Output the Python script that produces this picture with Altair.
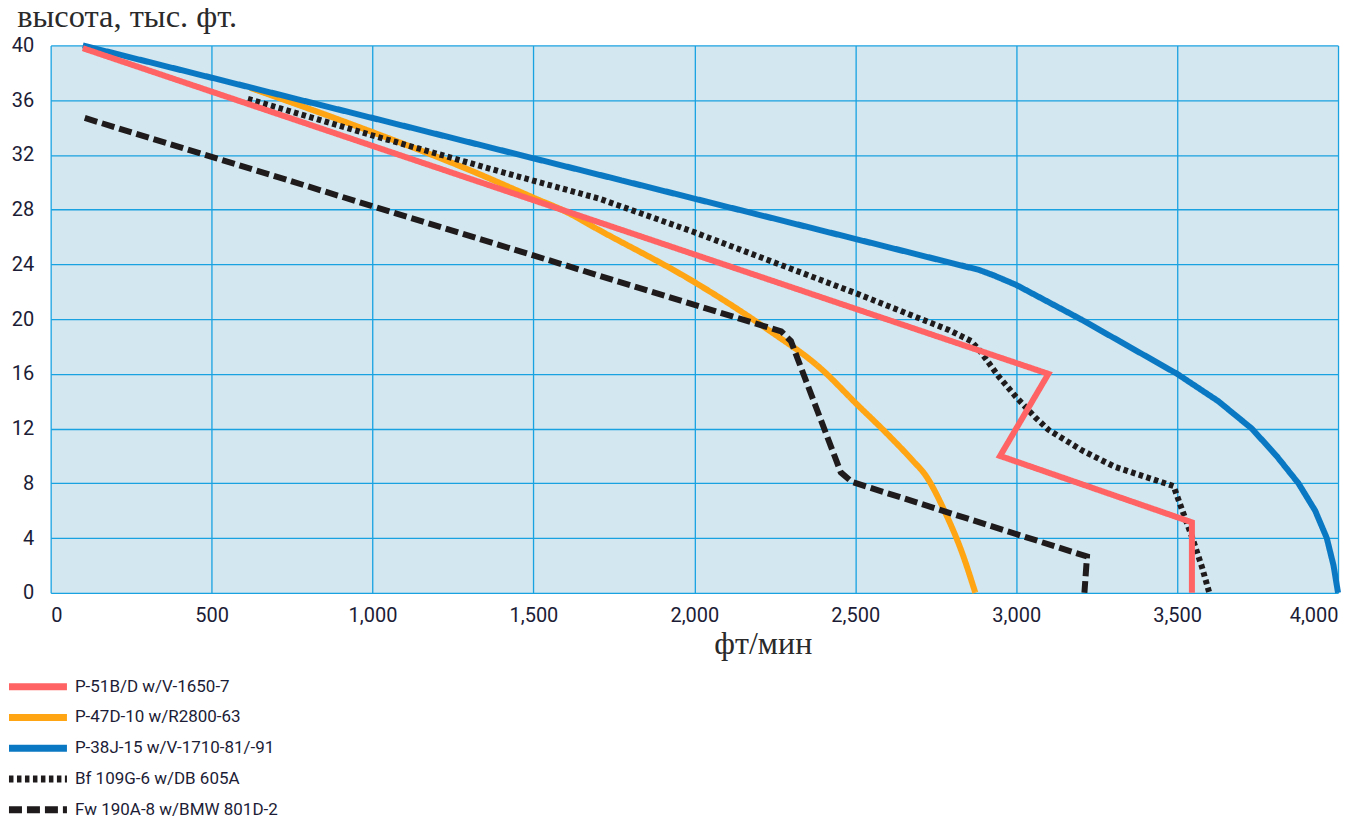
import altair as alt
import pandas as pd

names = [
    "P-51B/D w/V-1650-7",
    "P-47D-10 w/R2800-63",
    "P-38J-15 w/V-1710-81/-91",
    "Bf 109G-6 w/DB 605A",
    "Fw 190A-8 w/BMW 801D-2",
]
colors = ["#ff6363", "#ffa412", "#0a78c2", "#1f1b1c", "#1f1b1c"]
dashes = [[1, 0], [1, 0], [1, 0], [4.5, 3.5], [13, 5]]

# climb rate (ft/min) and altitude (thousand ft)
p51_x = [100, 3100, 2950, 3546, 3546]
p51_y = [39.8, 16.0, 10.0, 5.15, 0]

p47_x = [620, 800, 996, 1291, 1498, 1601, 1705, 1997, 2222, 2397, 2501, 2604, 2677, 2718, 2780, 2832, 2873]
p47_y = [36.9, 35.4, 33.7, 31.0, 28.9, 27.85, 26.5, 22.75, 19.34, 16.3, 13.87, 11.5, 9.7, 8.6, 5.84, 2.92, 0]

p38_x = [100, 2884, 2930, 3000, 3204, 3500, 3628, 3732, 3809, 3877, 3929, 3965, 3986, 4000]
p38_y = [40.0, 23.6, 23.2, 22.5, 19.95, 16.0, 14.0, 12.0, 10.0, 8.0, 6.0, 4.0, 2.0, 0]

bf_x = [613, 996, 1394, 1705, 1994, 2501, 2791, 2860, 2890, 2946, 3000, 3060, 3101, 3205, 3307, 3411, 3489, 3515, 3546, 3577, 3600]
bf_y = [36.1, 33.45, 30.8, 28.8, 26.4, 21.9, 19.2, 18.4, 17.6, 15.8, 14.3, 12.8, 11.9, 10.4, 9.2, 8.4, 7.8, 6.1, 4.1, 1.9, 0]

fw_x = [106, 2270, 2300, 2455, 2490, 3220, 3212]
fw_y = [34.7, 19.1, 18.4, 8.8, 8.1, 2.65, 0]

x_ticks = list(range(0, 4001, 500))
y_ticks = list(range(0, 41, 4))

series_x = [p51_x, p47_x, p38_x, bf_x, fw_x]
series_y = [p51_y, p47_y, p38_y, bf_y, fw_y]
interps = ["linear", "monotone", "linear", "linear", "linear"]

rows = []
for name, xs, ys in zip(names, series_x, series_y):
    for i, (xv, yv) in enumerate(zip(xs, ys)):
        rows.append({"series": name, "rate": xv, "alt": yv, "idx": i})
df = pd.DataFrame(rows)

label_font = "Roboto"
title_font = "Liberation Serif"
label_color = "#1c1c36"

x_axis = alt.Axis(
    values=x_ticks, format=",d", title="фт/мин",
    labelFont=label_font, labelFontSize=20, labelColor=label_color, labelPadding=13,
    ticks=False, domain=False, grid=True, gridColor="#18a2e2", gridWidth=1.3,
    titleFont=title_font, titleFontSize=32, titleFontWeight="normal", titleColor="#2a2a2a",
    titleX=664, titleY=61, titleAlign="left", titleBaseline="alphabetic",
)
y_axis = alt.Axis(
    values=y_ticks, title="высота, тыс. фт.",
    labelFont=label_font, labelFontSize=20, labelColor=label_color, labelPadding=17,
    ticks=False, domain=False, grid=True, gridColor="#18a2e2", gridWidth=1.3,
    titleFont=title_font, titleFontSize=32.5, titleFontWeight="normal", titleColor="#2a2a2a",
    titleAngle=0, titleX=-34, titleY=-19, titleAlign="left", titleBaseline="alphabetic",
)

legend = alt.Legend(
    title=None, orient="none", legendX=-28.7, legendY=626,
    symbolType="M-2.35,0H2.35", symbolSize=610, symbolStrokeWidth=7,
    labelFont=label_font, labelFontSize=17, labelColor=label_color, labelLimit=400,
    labelOffset=21, rowPadding=0.8,
)


def layer(name, interp):
    return (
        alt.Chart(df)
        .transform_filter(alt.datum.series == name)
        .mark_line(strokeWidth=6, interpolate=interp)
        .encode(
            x=alt.X("rate:Q", scale=alt.Scale(domain=[0, 4000], nice=False), axis=x_axis),
            y=alt.Y("alt:Q", scale=alt.Scale(domain=[0, 40], nice=False), axis=y_axis),
            color=alt.Color("series:N", scale=alt.Scale(domain=names, range=colors), legend=legend),
            strokeDash=alt.StrokeDash("series:N", scale=alt.Scale(domain=names, range=dashes), legend=legend),
            order=alt.Order("idx:Q"),
        )
    )


draw_order = [1, 2, 3, 4, 0]
chart = alt.layer(*[layer(names[i], interps[i]) for i in draw_order]).properties(
    width=1289,
    height=548,
    autosize=alt.AutoSizeParams(type="none"),
    padding={"left": 42.7, "top": 37, "right": 25, "bottom": 228},
).configure_view(fill="#d2e7ef", stroke="transparent")

chart.save("out.html", embed_options={"renderer": "svg", "actions": False})
